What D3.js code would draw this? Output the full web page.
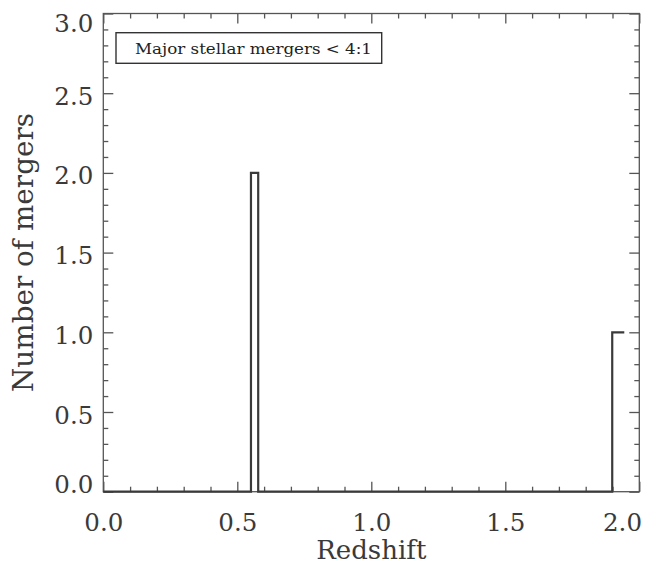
<!DOCTYPE html>
<html><head><meta charset="utf-8">
<script src="https://cdn.jsdelivr.net/npm/d3@7"></script>
<style>body{margin:0;background:#fff}svg{display:block}</style>
</head><body><svg id="c" width="661" height="566"></svg>
<script>
// ---- data ----
const binEdges = [0.0, 0.551, 0.578, 1.899, 1.944];
const binCounts = [0, 2, 0, 1, 1];
const xTicks = [0.0, 0.5, 1.0, 1.5, 2.0];
const xTickLabels = ["0.0", "0.5", "1.0", "1.5", "2.0"];
const yTicks = [0.0, 0.5, 1.0, 1.5, 2.0, 2.5, 3.0];
const yTickLabels = ["0.0", "0.5", "1.0", "1.5", "2.0", "2.5", "3.0"];
const xTitle = "Redshift";
const yTitle = "Number of mergers";
const legendLabel = "Major stellar mergers < 4:1";

// ---- layout ----
const L = 103.3, R = 639.3, T = 13.5, B = 491.7;
const axisColor = "#555", textColor = "#3a3a3a", font = "DejaVu Serif";
const svg = d3.select("#c");
const x = d3.scaleLinear().domain([0, 2]).range([L, R]);
const y = d3.scaleLinear().domain([0, 3]).range([B, T]);
const xMinor = x.ticks(20).filter(v => !xTicks.some(t => Math.abs(t - v) < 1e-9));
const yMinor = y.ticks(30).filter(v => !yTicks.some(t => Math.abs(t - v) < 1e-9));

function style(g) {
  g.select(".domain").remove();
  g.selectAll(".tick line").attr("stroke", axisColor).attr("stroke-width", 1.3);
  g.selectAll("text").attr("fill", textColor).attr("font-family", font).attr("font-size", 25);
}
const fmtX = (d) => xTickLabels[xTicks.indexOf(d)];
const fmtY = (d) => yTickLabels[yTicks.indexOf(d)];

// bottom
svg.append("g").attr("transform", `translate(0,${B})`)
  .call(d3.axisBottom(x).tickValues(xMinor).tickSize(-5).tickFormat("")).call(style);
svg.append("g").attr("transform", `translate(0,${B})`)
  .call(d3.axisBottom(x).tickValues(xTicks).tickSize(-10).tickPadding(21.5).tickFormat(fmtX)).call(style)
  .selectAll("text")
  .attr("x", d => Math.min(622, x(d)) - x(d))
  .attr("textLength", 39).attr("lengthAdjust", "spacingAndGlyphs");
// top
svg.append("g").attr("transform", `translate(0,${T})`)
  .call(d3.axisTop(x).tickValues(xMinor).tickSize(-5).tickFormat("")).call(style);
svg.append("g").attr("transform", `translate(0,${T})`)
  .call(d3.axisTop(x).tickValues(xTicks).tickSize(-10).tickFormat("")).call(style);
// left
svg.append("g").attr("transform", `translate(${L},0)`)
  .call(d3.axisLeft(y).tickValues(yMinor).tickSize(-5).tickFormat("")).call(style);
svg.append("g").attr("transform", `translate(${L},0)`)
  .call(d3.axisLeft(y).tickValues(yTicks).tickSize(-10).tickPadding(10).tickFormat(fmtY)).call(style)
  .selectAll("text")
  .attr("dy", "0.36em")
  .attr("y", d => Math.max(22.5, Math.min(483.5, y(d) + 2)) - y(d))
  .attr("textLength", 39).attr("lengthAdjust", "spacingAndGlyphs");
// right
svg.append("g").attr("transform", `translate(${R},0)`)
  .call(d3.axisRight(y).tickValues(yMinor).tickSize(-5).tickFormat("")).call(style);
svg.append("g").attr("transform", `translate(${R},0)`)
  .call(d3.axisRight(y).tickValues(yTicks).tickSize(-10).tickFormat("")).call(style);

// frame
svg.append("rect").attr("x", L).attr("y", T).attr("width", R - L).attr("height", B - T)
  .attr("fill", "none").attr("stroke", axisColor).attr("stroke-width", 1.3);

// histogram step line
const pts = binEdges.map((e, i) => [e, binCounts[i]]);
svg.append("path").attr("d", d3.line().x(d => x(d[0])).y(d => y(d[1])).curve(d3.curveStepAfter)(pts))
  .attr("fill", "none").attr("stroke", "#3a3a3a").attr("stroke-width", 2.2);

// legend
svg.append("rect").attr("x", 116).attr("y", 32.7).attr("width", 265.7).attr("height", 30.6)
  .attr("fill", "#fff").attr("stroke", "#333").attr("stroke-width", 1.4);
svg.append("text").attr("x", 135).attr("y", 54).text(legendLabel)
  .attr("font-family", font).attr("font-size", 15).attr("fill", "#222")
  .attr("textLength", 237).attr("lengthAdjust", "spacingAndGlyphs");

// titles
svg.append("text").attr("x", (L + R) / 2).attr("y", 559).attr("text-anchor", "middle")
  .attr("font-family", font).attr("font-size", 26).attr("fill", textColor).text(xTitle);
svg.append("text").attr("transform", `translate(33,${252.5}) rotate(-90)`).attr("text-anchor", "middle")
  .attr("font-family", font).attr("font-size", 27).attr("fill", textColor)
  .attr("textLength", 279).attr("lengthAdjust", "spacingAndGlyphs").text(yTitle);
</script>
</body></html>
